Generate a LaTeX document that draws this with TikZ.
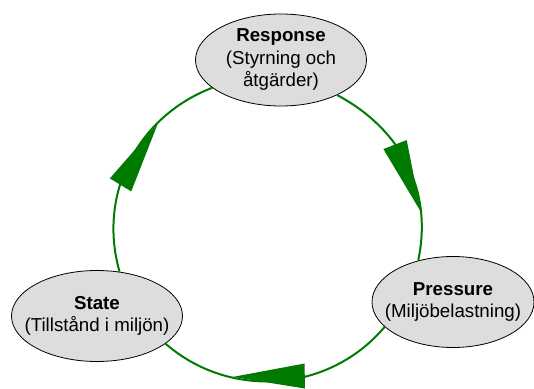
\documentclass[tikz,border=0pt]{standalone}
\usepackage{fontspec}
\setmainfont{Liberation Sans}
\usepackage{tikz}
\usetikzlibrary{shapes.geometric, decorations.markings}

\definecolor{cycgreen}{RGB}{0,122,0}
\definecolor{ellgray}{RGB}{221,221,221}

\begin{document}
\begin{tikzpicture}[x=1pt, y=1pt,
    stage/.style={ellipse, draw=black, fill=ellgray, line width=0.8pt, inner xsep=-12pt, inner ysep=0pt,
                  align=center, font=\fontsize{18.7}{22.5}\selectfont},
    cycline/.style={draw=cycgreen, line width=2pt},
    cycarrow/.style={postaction={decorate}, decoration={markings, mark=at position #1 with
                  {\fill[cycgreen] (-36pt,-17.5pt) -- (36pt,-5pt) -- (-36pt,7.5pt) -- cycle;}}}]
          \useasboundingbox (0,0) rectangle (534,388);
          \clip (0,0) rectangle (534,388);

          \node [stage, minimum width=171pt, minimum height=92pt] (resp) at (281,328) {\textbf{Response}\\(Styrning och\\åtgärder)}; % top
          \node [stage, minimum width=162pt, minimum height=91pt] (press) at (453,86) {\textbf{Pressure}\\(Miljöbelastning)}; % right
          \node [stage, minimum width=171pt, minimum height=91pt] (state) at (97,72) {\textbf{State}\\(Tillstånd i miljön)}; % left

          \draw [cycline, cycarrow=0.57] (resp.-32) to [out=-28, in=78] (press.130);
          \draw [cycline, cycarrow=0.54] (press.200) to [out=-130, in=-41] (state.-22);
          \draw [cycline, cycarrow=0.55] (state.63) to [out=106, in=201] (resp.202);
        \end{tikzpicture}
\end{document}
